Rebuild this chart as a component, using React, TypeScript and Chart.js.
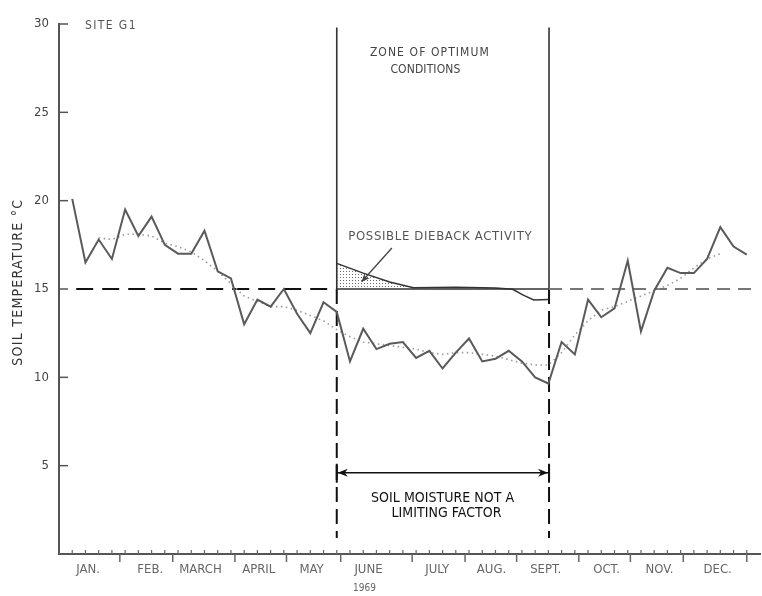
import React, { useEffect, useRef } from "react";
import { Chart, registerables } from "chart.js";

Chart.register(...registerables);

// ---- data (week of 1969, soil temperature °C) ----
const WEEKS = [1, 2, 3, 4, 5, 6, 7, 8, 9, 10, 11, 12, 13, 14, 15, 16, 17, 18, 19, 20, 21, 22, 23, 24, 25, 26, 27, 28, 29, 30, 31, 32, 33, 34, 35, 36, 37, 38, 39, 40, 41, 42, 43, 44, 45, 46, 47, 48, 49, 50, 51, 52];
const SOIL_TEMP = [20.1, 16.5, 17.8, 16.7, 19.5, 18.0, 19.1, 17.5, 17.0, 17.0, 18.3, 16.0, 15.6, 13.0, 14.4, 14.0, 15.0, 13.6, 12.5, 14.25, 13.7, 10.9, 12.75, 11.6, 11.9, 12.0, 11.1, 11.5, 10.5, 11.4, 12.2, 10.9, 11.05, 11.5, 10.9, 10.0, 9.65, 12.0, 11.3, 14.4, 13.4, 13.9, 16.6, 12.6, 14.9, 16.2, 15.9, 15.9, 16.7, 18.5, 17.4, 16.95];
const TREND = [null, null, 17.9, 17.8, 18.1, 18.1, 18.0, 17.6, 17.4, 17.1, 16.6, 16.0, 15.3, 14.6, 14.3, 14.0, 14.0, 13.8, 13.5, 13.2, 12.7, 12.3, 12.0, 11.9, 11.8, 11.7, 11.6, 11.4, 11.3, 11.4, 11.4, 11.3, 11.2, 11.0, 10.8, 10.7, 10.7, 11.4, 12.4, 13.2, 13.8, 14.0, 14.3, 14.6, 14.9, 15.2, 15.6, 16.2, 16.7, 17.0, null, null];
const DIEBACK_WEEK = [21.0, 23.0, 25.0, 26.8, 30.0, 33.0, 34.3, 35.1, 35.9, 37.0];
const DIEBACK_TEMP = [16.45, 15.9, 15.4, 15.07, 15.1, 15.05, 14.98, 14.65, 14.38, 14.4];

const MONTHS = ["JAN.", "FEB.", "MARCH", "APRIL", "MAY", "JUNE", "JULY", "AUG.", "SEPT.", "OCT.", "NOV.", "DEC."];
const MONTH_LABEL_AT = [2.2, 6.9, 10.7, 15.1, 19.1, 23.4, 28.6, 32.7, 36.8, 41.4, 45.4, 49.8];
const MONTH_BOUNDS = [4.6, 8.6, 13.3, 17.2, 21.3, 26.7, 30.7, 34.6, 39.3, 43.2, 47.2, 52.0];
const Y_TICKS = [5, 10, 15, 20, 25, 30];

const THRESHOLD = 15;
const ZONE_START = 21.0;
const ZONE_END = 37.05;
const ZONE_TOP = 29.8;
const MOISTURE_BOTTOM = 0.9;
const MOISTURE_ARROW = 4.6;

const FONT = "'Liberation Sans Narrow', 'DejaVu Sans Condensed', 'Liberation Sans', sans-serif";

function drawText(ctx: CanvasRenderingContext2D, text: string, x: number, y: number, size: number, color: string, width?: number, align: CanvasTextAlign = "center") {
  ctx.font = `${size}px ${FONT}`;
  ctx.fillStyle = color;
  ctx.textAlign = align;
  ctx.textBaseline = "middle";
  (ctx as any).letterSpacing = "0px";
  let sp = 0;
  if (width) {
    const w = ctx.measureText(text).width;
    sp = (width - w) / text.length;
    (ctx as any).letterSpacing = sp + "px";
  }
  ctx.fillText(text, x + (align === "center" ? sp / 2 : 0), y);
  (ctx as any).letterSpacing = "0px";
}

function seg(ctx: CanvasRenderingContext2D, x1: number, y1: number, x2: number, y2: number) {
  ctx.beginPath();
  ctx.moveTo(x1, y1);
  ctx.lineTo(x2, y2);
  ctx.stroke();
}

function arrowHead(ctx: CanvasRenderingContext2D, tx: number, ty: number, angle: number, len: number, half: number) {
  ctx.save();
  ctx.translate(tx, ty);
  ctx.rotate(angle);
  ctx.beginPath();
  ctx.moveTo(0, 0);
  ctx.lineTo(-len, -half);
  ctx.lineTo(-len * 0.7, 0);
  ctx.lineTo(-len, half);
  ctx.closePath();
  ctx.fill();
  ctx.restore();
}

const annotationPlugin = {
  id: "annotations",
  afterDraw(chart: any) {
    const { ctx, scales } = chart;
    const xs = scales.x;
    const ys = scales.y;
    const X = (v: number) => xs.getPixelForValue(v);
    const Y = (v: number) => ys.getPixelForValue(v);
    ctx.save();

    // inward y ticks
    ctx.strokeStyle = "#555";
    ctx.lineWidth = 1.5;
    for (const t of Y_TICKS) seg(ctx, X(0), Y(t), X(0) + 9, Y(t));
    // weekly ticks (up) and month boundaries (down)
    ctx.lineWidth = 1.2;
    ctx.strokeStyle = "#666";
    for (const w of WEEKS) seg(ctx, X(w), Y(0), X(w), Y(0) - 4);
    ctx.lineWidth = 1.5;
    for (const b of MONTH_BOUNDS) seg(ctx, X(b), Y(0), X(b), Y(0) + 8);

    // moisture arrow
    ctx.strokeStyle = "#111";
    ctx.fillStyle = "#111";
    ctx.lineWidth = 1.5;
    const ay = Y(MOISTURE_ARROW);
    seg(ctx, X(ZONE_START), ay, X(ZONE_END), ay);
    ctx.lineWidth = 2;
    seg(ctx, X(ZONE_START), ay - 9, X(ZONE_START), ay + 10);
    seg(ctx, X(ZONE_END), ay - 9, X(ZONE_END), ay + 10);
    arrowHead(ctx, X(ZONE_START) + 1, ay, Math.PI, 10, 4);
    arrowHead(ctx, X(ZONE_END) - 1, ay, 0, 10, 4);

    // dieback pointer
    ctx.strokeStyle = "#444";
    ctx.fillStyle = "#444";
    ctx.lineWidth = 1.3;
    const p1 = [X(25.17), Y(17.32)];
    const p2 = [X(22.88), Y(15.41)];
    seg(ctx, p1[0], p1[1], p2[0], p2[1]);
    arrowHead(ctx, p2[0], p2[1], Math.atan2(p2[1] - p1[1], p2[0] - p1[0]), 8, 3.5);

    // texts
    drawText(ctx, "SITE G1", X(1.96), Y(29.9), 12, "#555", 52, "left");
    drawText(ctx, "ZONE OF OPTIMUM", X(28.0), Y(28.35), 12, "#444", 120);
    drawText(ctx, "CONDITIONS", X(27.7), Y(27.4), 12, "#444", 70);
    drawText(ctx, "POSSIBLE DIEBACK ACTIVITY", X(28.8), Y(17.94), 13, "#555", 184);
    drawText(ctx, "SOIL MOISTURE NOT A", X(29.0), Y(3.17), 14, "#111", 143);
    drawText(ctx, "LIMITING FACTOR", X(29.3), Y(2.3), 14, "#111", 110);
    drawText(ctx, "1969", X(23.1), Y(0) + 34, 10, "#666");

    // y axis title
    ctx.save();
    ctx.translate(X(0) - 41, Y(15.35));
    ctx.rotate(-Math.PI / 2);
    drawText(ctx, "SOIL TEMPERATURE °C", 0, 0, 14, "#333", 167);
    ctx.restore();

    ctx.restore();
  },
};

export default function App() {
  const ref = useRef<HTMLCanvasElement | null>(null);

  useEffect(() => {
    if (!ref.current) return;
    const pc = document.createElement("canvas");
    pc.width = 3;
    pc.height = 3;
    const pctx = pc.getContext("2d")!;
    pctx.fillStyle = "#6a6a6a";
    pctx.fillRect(1, 1, 1, 1);
    const stipple = ref.current.getContext("2d")!.createPattern(pc, "repeat");

    const pts = (xv: number[], yv: (number | null)[]) => xv.map((x, i) => ({ x, y: yv[i] }));

    const chart = new Chart(ref.current, {
      type: "line",
      data: {
        datasets: [
          {
            label: "Soil temperature",
            data: pts(WEEKS, SOIL_TEMP),
            borderColor: "#5a5a5a",
            borderWidth: 2,
            pointRadius: 0,
            tension: 0,
          },
          {
            label: "Trend",
            data: pts(WEEKS, TREND),
            borderColor: "#9a9a9a",
            borderWidth: 1.6,
            borderDash: [1.5, 3.5],
            pointRadius: 0,
            spanGaps: false,
          },
          {
            label: "Possible dieback",
            data: pts(DIEBACK_WEEK, DIEBACK_TEMP),
            borderColor: "#333",
            borderWidth: 1.5,
            pointRadius: 0,
            fill: { target: { value: THRESHOLD }, above: stipple as any, below: "rgba(0,0,0,0)" },
          },
          {
            label: "Threshold",
            data: [{ x: 1.3, y: THRESHOLD }, { x: 20.5, y: THRESHOLD }],
            borderColor: "#111",
            borderWidth: 2,
            borderDash: [17, 9],
            pointRadius: 0,
          },
          {
            label: "Threshold right",
            data: [{ x: ZONE_END, y: THRESHOLD }, { x: 52.8, y: THRESHOLD }],
            borderColor: "#777",
            borderWidth: 2,
            borderDash: [13, 8],
            pointRadius: 0,
          },
          {
            label: "Zone",
            data: [
              { x: ZONE_START, y: ZONE_TOP },
              { x: ZONE_START, y: THRESHOLD },
              { x: ZONE_END, y: THRESHOLD },
              { x: ZONE_END, y: ZONE_TOP },
            ],
            borderColor: "#333",
            borderWidth: 1.6,
            pointRadius: 0,
          },
          {
            label: "Moisture left",
            data: [{ x: ZONE_START, y: THRESHOLD }, { x: ZONE_START, y: MOISTURE_BOTTOM }],
            borderColor: "#111",
            borderWidth: 2,
            borderDash: [15, 7],
            pointRadius: 0,
          },
          {
            label: "Moisture right",
            data: [{ x: ZONE_END, y: THRESHOLD }, { x: ZONE_END, y: MOISTURE_BOTTOM }],
            borderColor: "#111",
            borderWidth: 2,
            borderDash: [15, 7],
            pointRadius: 0,
          },
        ],
      },
      options: {
        animation: false,
        responsive: false,
        devicePixelRatio: 1,
        layout: { padding: { left: 0, top: 24, right: 2, bottom: 0 } },
        plugins: { legend: { display: false }, tooltip: { enabled: false } },
        scales: {
          x: {
            type: "linear",
            min: 0,
            max: 53,
            grid: { display: false, drawTicks: false },
            border: { display: true, color: "#555", width: 2 },
            afterBuildTicks: (scale: any) => {
              scale.ticks = MONTH_LABEL_AT.map((v) => ({ value: v }));
            },
            afterFit: (scale: any) => {
              scale.height = 42;
            },
            ticks: {
              autoSkip: false,
              maxRotation: 0,
              minRotation: 0,
              padding: 8,
              color: "#666",
              font: { family: FONT, size: 13 },
              callback: (_v: any, i: number) => MONTHS[i],
            },
          },
          y: {
            type: "linear",
            min: 0,
            max: 30,
            grid: { display: false, drawTicks: false },
            border: { display: true, color: "#555", width: 2 },
            afterBuildTicks: (scale: any) => {
              scale.ticks = Y_TICKS.map((v) => ({ value: v }));
            },
            afterFit: (scale: any) => {
              scale.width = 59;
            },
            ticks: {
              padding: 10,
              color: "#444",
              font: { family: FONT, size: 13 },
              callback: (v: any) => String(v),
            },
          },
        },
      },
      plugins: [annotationPlugin],
    });
    return () => chart.destroy();
  }, []);

  return (
    <div style={{ position: "fixed", left: 0, top: 0, width: 762, height: 596, background: "#fff" }}>
      <canvas ref={ref} width={762} height={596} style={{ display: "block" }} />
    </div>
  );
}
